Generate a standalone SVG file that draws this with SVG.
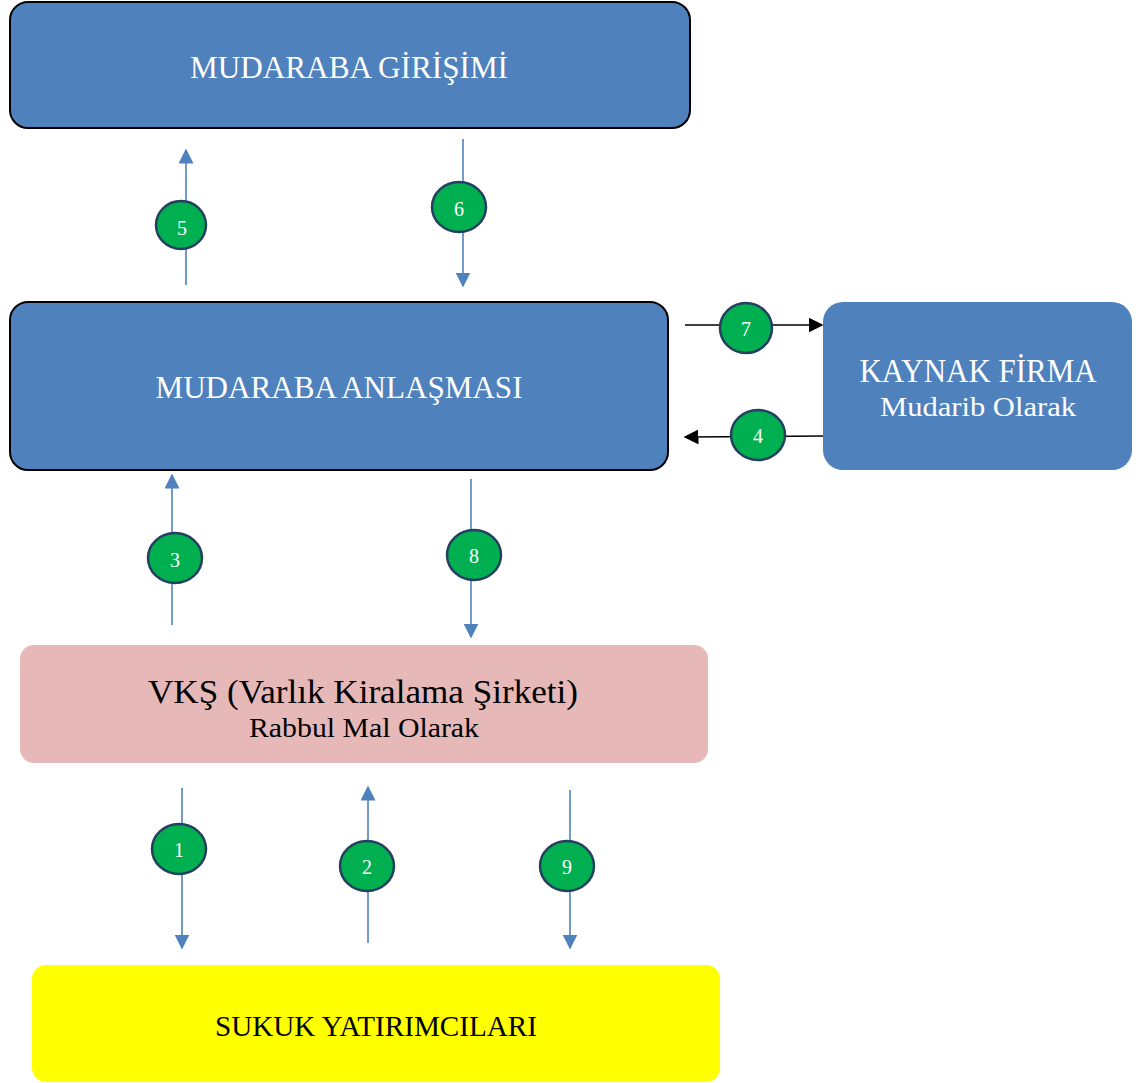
<svg xmlns="http://www.w3.org/2000/svg" width="1146" height="1083" viewBox="0 0 1146 1083">
<defs>
<style>
.box{fill:#4F81BD}
.stk{stroke:#000;stroke-width:2}
.wt{fill:#fff;font-family:"Liberation Serif","DejaVu Serif",serif;text-anchor:middle}
.bt{fill:#000;font-family:"Liberation Serif","DejaVu Serif",serif;text-anchor:middle}
.bl{stroke:#4F81BD;stroke-width:1.6;fill:none}
.bk{stroke:#000;stroke-width:1.6;fill:none}
.c{fill:#00B050;stroke:#243F60;stroke-width:2.5}
.n{fill:#fff;font-family:"Liberation Serif","DejaVu Serif",serif;font-size:20px;text-anchor:middle}
</style>
<marker id="ab" viewBox="0 0 10 10" refX="9" refY="5" markerWidth="15" markerHeight="15" markerUnits="userSpaceOnUse" orient="auto"><path d="M0,0 L10,5 L0,10 z" fill="#4F81BD"/></marker>
<marker id="ak" viewBox="0 0 10 10" refX="9" refY="5" markerWidth="15" markerHeight="15" markerUnits="userSpaceOnUse" orient="auto"><path d="M0,0 L10,5 L0,10 z" fill="#000"/></marker>
</defs>
<rect width="1146" height="1083" fill="#fff"/>
<g id="mudaraba-girisimi">
<rect class="box stk" x="10" y="2" width="680" height="126" rx="18"/>
<text class="wt" x="349" y="78" font-size="32" textLength="318" lengthAdjust="spacingAndGlyphs">MUDARABA GİRİŞİMİ</text>
</g>
<g id="mudaraba-anlasmasi">
<rect class="box stk" x="10" y="302" width="658" height="168" rx="18"/>
<text class="wt" x="339" y="398" font-size="32" textLength="367" lengthAdjust="spacingAndGlyphs">MUDARABA ANLAŞMASI</text>
</g>
<g id="kaynak-firma">
<rect class="box" x="823" y="302" width="309" height="168" rx="20"/>
<text class="wt" x="978" y="382" font-size="33" textLength="237" lengthAdjust="spacingAndGlyphs">KAYNAK FİRMA</text>
<text class="wt" x="978" y="416" font-size="27" textLength="196" lengthAdjust="spacingAndGlyphs">Mudarib Olarak</text>
</g>
<g id="vks">
<rect x="20" y="645" width="688" height="118" rx="14" fill="#E6B8B7"/>
<text class="bt" x="363" y="703" font-size="34" textLength="430" lengthAdjust="spacingAndGlyphs">VKŞ (Varlık Kiralama Şirketi)</text>
<text class="bt" x="364" y="737" font-size="27" textLength="230" lengthAdjust="spacingAndGlyphs">Rabbul Mal Olarak</text>
</g>
<g id="sukuk">
<rect x="32" y="965" width="688" height="117" rx="14" fill="#FFFF00"/>
<text class="bt" x="376" y="1036" font-size="30" textLength="322" lengthAdjust="spacingAndGlyphs">SUKUK YATIRIMCILARI</text>
</g>
<g id="connectors">
<line class="bl" x1="186" y1="285" x2="186" y2="150" marker-end="url(#ab)"/>
<line class="bl" x1="463" y1="139" x2="463" y2="286" marker-end="url(#ab)"/>
<line class="bk" x1="685" y1="325" x2="822" y2="325" marker-end="url(#ak)"/>
<line class="bk" x1="823" y1="436" x2="685" y2="437" marker-end="url(#ak)"/>
<line class="bl" x1="172" y1="625" x2="172" y2="475" marker-end="url(#ab)"/>
<line class="bl" x1="471" y1="479" x2="471" y2="637" marker-end="url(#ab)"/>
<line class="bl" x1="182" y1="788" x2="182" y2="948" marker-end="url(#ab)"/>
<line class="bl" x1="368" y1="943" x2="368" y2="787" marker-end="url(#ab)"/>
<line class="bl" x1="570" y1="790" x2="570" y2="948" marker-end="url(#ab)"/>
</g>
<g id="badges">
<g id="b5"><ellipse class="c" cx="181" cy="225" rx="25" ry="24"/><text class="n" x="182" y="235">5</text></g>
<g id="b6"><ellipse class="c" cx="459" cy="207" rx="27" ry="25"/><text class="n" x="459" y="216">6</text></g>
<g id="b7"><ellipse class="c" cx="746" cy="328" rx="26" ry="25"/><text class="n" x="746" y="336">7</text></g>
<g id="b4"><ellipse class="c" cx="758" cy="435" rx="27" ry="25"/><text class="n" x="758" y="443">4</text></g>
<g id="b3"><ellipse class="c" cx="175" cy="558" rx="27" ry="25"/><text class="n" x="175" y="567">3</text></g>
<g id="b8"><ellipse class="c" cx="474" cy="555" rx="27" ry="25"/><text class="n" x="474" y="563">8</text></g>
<g id="b1"><ellipse class="c" cx="179" cy="849" rx="27" ry="25"/><text class="n" x="179" y="857">1</text></g>
<g id="b2"><ellipse class="c" cx="367" cy="866" rx="27" ry="25"/><text class="n" x="367" y="874">2</text></g>
<g id="b9"><ellipse class="c" cx="567" cy="866" rx="27" ry="25"/><text class="n" x="567" y="874">9</text></g>
</g>
</svg>
